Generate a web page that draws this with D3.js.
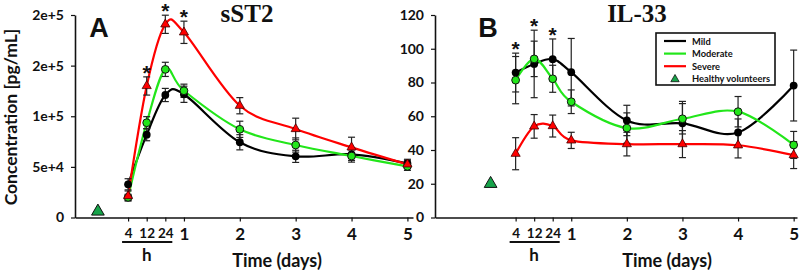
<!DOCTYPE html>
<html>
<head>
<meta charset="utf-8">
<script src="https://cdn.jsdelivr.net/npm/d3@7/dist/d3.min.js"></script>
<style>
  body { margin: 0; background: #fff; }
  svg text { font-family: Lato, "Open Sans", sans-serif; font-weight: 700; fill: #111; }
</style>
</head>
<body>
<svg width="800" height="272"></svg>
<script>
// ---- data ----
const timeLabels = ['4', '12', '24', '1', '2', '3', '4', '5'];
const timeSlots  = [0, 1 / 3, 2 / 3, 1, 2, 3, 4, 5];   // axis position, hours squeezed into day 0-1
const groups = ['Mild', 'Moderate', 'Severe'];

// sST2 (pg/mL)
const sst2Mild        = [32800, 81800, 121000, 121700, 74300, 60400, 62400, 53500];
const sst2Moderate    = [19900, 93600, 146300, 125200, 87100, 71600, 60700, 50500];
const sst2Severe      = [21200, 129900, 190800, 182900, 110400, 87400, 69300, 52500];
const sst2MildErr     = [5500, 6000, 6500, 8000, 7500, 6000, 6000, 4000];
const sst2ModerateErr = [3000, 6000, 7000, 6500, 8000, 7000, 6000, 4000];
const sst2SevereErr   = [5000, 9000, 9000, 11000, 8000, 10700, 10000, 4000];
const sst2Healthy = 6000;
const sst2Stars = [1, 2, 3];
const sst2Ticks  = [0, 50000, 100000, 150000, 200000];
const sst2TickLabels = ['0', '5e+4', '1e+5', '2e+5', '2e+5'];

// IL-33 (pg/mL)
const il33Mild        = [85.9, 91.0, 93.8, 86.1, 57.5, 55.8, 50.4, 78.2];
const il33Moderate    = [81.4, 94.0, 82.2, 68.6, 53.0, 58.5, 62.7, 43.0];
const il33Severe      = [37.8, 54.0, 54.2, 45.7, 43.5, 43.5, 42.8, 37.0];
const il33MildErr     = [11.5, 20, 12, 20, 9, 13, 8, 21];
const il33ModerateErr = [14, 10.5, 8, 7, 9, 9, 9, 8];
const il33SevereErr   = [9.5, 7, 6.5, 4.8, 7, 8, 7.5, 8];
const il33Healthy = 20;
const il33Stars = [0, 1, 2];
const il33Ticks = [0, 20, 40, 60, 80, 100, 120];

// ---- drawing ----
const svg = d3.select('svg');
const color = { Mild: '#000000', Moderate: '#22e61a', Severe: '#ff0000' };
const healthyFill = '#17a34a';
const yRange = [217.5, 15];

const triangle = d3.symbol().type(d3.symbolTriangle);

const marker = (sel, group) => {
  if (group === 'Severe') {
    sel.append('path').attr('d', triangle.size(36)())
      .attr('fill', color.Severe).attr('stroke', '#400').attr('stroke-width', 0.8);
  } else {
    sel.append('circle').attr('r', 3.9)
      .attr('fill', color[group]).attr('stroke', '#111').attr('stroke-width', group === 'Mild' ? 0 : 1);
  }
};

const drawPanel = p => {
  const x = d3.scaleLinear().domain(p.xDomain).range(p.xRange);
  const y = d3.scaleLinear().domain(p.yDomain).range(yRange);
  const g = svg.append('g');

  // axes
  const yAxisG = g.append('g')
    .attr('transform', `translate(${p.xRange[0]},0)`)
    .call(d3.axisLeft(y).tickValues(p.yTicks).tickFormat((d, i) => p.yLabels[i])
      .tickSize(4).tickSizeOuter(0).tickPadding(7));
  yAxisG.selectAll('text').style('font-size', '14px');

  const xAxisG = g.append('g')
    .attr('transform', `translate(0,${yRange[0]})`)
    .call(d3.axisBottom(x).tickValues(timeSlots).tickFormat((d, i) => timeLabels[i])
      .tickSize(4).tickSizeOuter(0).tickPadding(6));
  xAxisG.selectAll('text')
    .style('font-size', (d, i) => i < 3 ? '13.5px' : '17px')
    .attr('dy', (d, i) => i < 3 ? '0.78em' : '0.71em');

  [yAxisG, xAxisG].forEach(a => {
    a.select('.domain').attr('stroke', '#111').attr('stroke-width', 1.6);
    a.selectAll('.tick line').attr('stroke', '#111').attr('stroke-width', 1.2);
    a.selectAll('text').attr('fill', '#111');
  });

  // hours bracket
  g.append('line')
    .attr('x1', x(timeSlots[0]) - 6).attr('x2', x(timeSlots[2]) + 7)
    .attr('y1', 242).attr('y2', 242)
    .attr('stroke', '#111').attr('stroke-width', 2);
  g.append('text').attr('x', x(timeSlots[1])).attr('y', 261)
    .attr('text-anchor', 'middle').style('font-size', '17px').text('h');

  g.append('text').attr('x', p.xLabelX).attr('y', 267)
    .attr('text-anchor', 'middle').style('font-size', '18px').text('Time (days)');

  // title and panel letter
  g.append('text').attr('x', p.titleX).attr('y', 22).attr('text-anchor', 'middle')
    .style('font-family', '"Liberation Serif", "Times New Roman", serif')
    .style('font-size', '25px').text(p.title);
  g.append('text').attr('x', p.letterX).attr('y', 37).attr('text-anchor', 'middle')
    .style('font-family', '"Liberation Sans", Arial, sans-serif')
    .style('font-size', '27px').text(p.letter);

  const series = groups.map((name, k) => ({
    name,
    points: timeSlots.map((t, i) => ({ t, v: p.values[k][i], e: p.errors[k][i] }))
  }));

  const line = d3.line()
    .x(d => x(d.t)).y(d => y(d.v))
    .curve(d3.curveCardinal.tension(0));

  g.selectAll('path.series').data(series).enter()
    .append('path').attr('class', 'series')
    .attr('d', d => line(d.points))
    .attr('fill', 'none')
    .attr('stroke', d => color[d.name])
    .attr('stroke-width', 2.2);

  // error bars
  const bars = g.append('g').attr('stroke', '#222').attr('stroke-width', 1.2);
  series.forEach(s => s.points.forEach(d => {
    const cx = x(d.t), y0 = y(d.v - d.e), y1 = y(d.v + d.e);
    bars.append('line').attr('x1', cx).attr('x2', cx).attr('y1', y0).attr('y2', y1);
    bars.append('line').attr('x1', cx - 3.5).attr('x2', cx + 3.5).attr('y1', y0).attr('y2', y0);
    bars.append('line').attr('x1', cx - 3.5).attr('x2', cx + 3.5).attr('y1', y1).attr('y2', y1);
  }));

  // markers
  series.forEach(s => {
    g.selectAll(null).data(s.points).enter()
      .append('g')
      .attr('transform', d => `translate(${x(d.t)},${y(d.v)})`)
      .each(function () { marker(d3.select(this), s.name); });
  });

  // healthy volunteers
  g.append('path')
    .attr('d', triangle.size(70)())
    .attr('transform', `translate(${x(p.healthyPos)},${y(p.healthy)})`)
    .attr('fill', healthyFill).attr('stroke', '#111').attr('stroke-width', 1);

  // significance stars
  p.stars.forEach(i => {
    const top = d3.max(series, s => s.points[i].v + s.points[i].e);
    g.append('text')
      .attr('x', x(timeSlots[i])).attr('y', Math.max(y(top) - 9, 6) + 12)
      .attr('text-anchor', 'middle')
      .style('font-family', '"Liberation Sans", Arial, sans-serif')
      .style('font-size', '21px').text('*');
  });

  return { g, x, y };
};

drawPanel({
  xDomain: [-0.95, 5.1], xRange: [75, 413],
  yDomain: [0, 200000], yTicks: sst2Ticks, yLabels: sst2TickLabels,
  values: [sst2Mild, sst2Moderate, sst2Severe],
  errors: [sst2MildErr, sst2ModerateErr, sst2SevereErr],
  healthy: sst2Healthy, healthyPos: -0.54, stars: sst2Stars,
  title: 'sST2', titleX: 247, letter: 'A', letterX: 99, xLabelX: 277
});

drawPanel({
  xDomain: [-1.45, 5.06], xRange: [435, 797],
  yDomain: [0, 120], yTicks: il33Ticks, yLabels: il33Ticks.map(String),
  values: [il33Mild, il33Moderate, il33Severe],
  errors: [il33MildErr, il33ModerateErr, il33SevereErr],
  healthy: il33Healthy, healthyPos: -0.45, stars: il33Stars,
  title: 'IL-33', titleX: 637, letter: 'B', letterX: 488, xLabelX: 667
});

// y axis title
svg.append('text')
  .attr('transform', 'translate(17,117) rotate(-90)')
  .attr('text-anchor', 'middle').style('font-size', '17.5px')
  .text('Concentration [pg/mL]');

// legend in panel B
const legendItems = groups.concat(['Healthy volunteers']);
const legend = svg.append('g').attr('transform', 'translate(656,33)');
legend.append('rect').attr('width', 119).attr('height', 52)
  .attr('fill', '#fff').attr('stroke', '#111').attr('stroke-width', 1.6);
legendItems.forEach((name, i) => {
  const row = legend.append('g').attr('transform', `translate(0,${8 + i * 12.6})`);
  if (color[name]) {
    row.append('line').attr('x1', 8).attr('x2', 30).attr('y1', 0).attr('y2', 0)
      .attr('stroke', color[name]).attr('stroke-width', 2.2);
  } else {
    row.append('path').attr('d', triangle.size(30)()).attr('transform', 'translate(19,0.5)')
      .attr('fill', healthyFill).attr('stroke', '#111').attr('stroke-width', 0.8);
  }
  row.append('text').attr('x', 36).attr('y', 3.5).style('font-size', '9.3px').text(name);
});
</script>
</body>
</html>
